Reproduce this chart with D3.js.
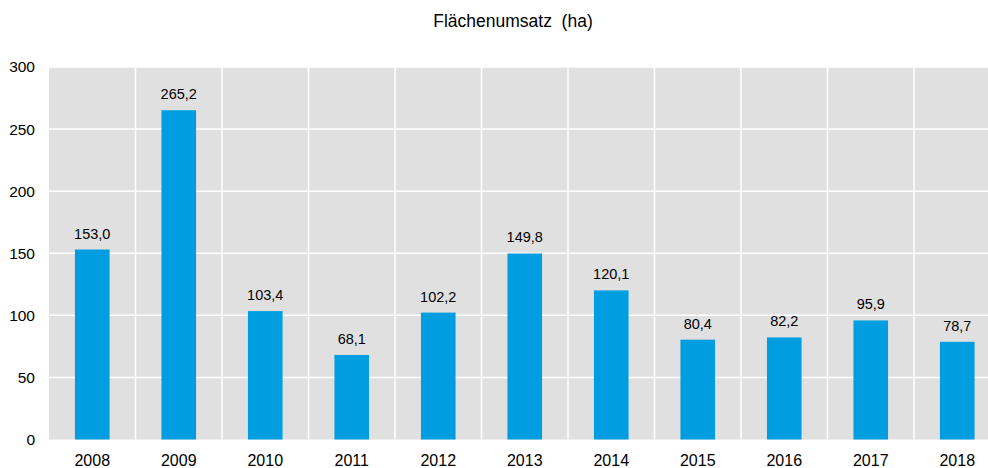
<!DOCTYPE html>
<html>
<head>
<meta charset="utf-8">
<script src="https://cdn.jsdelivr.net/npm/d3@7"></script>
<style>
  body { margin: 0; background: #fff; }
  svg { display: block; font-family: "Liberation Sans", Arial, sans-serif; }
</style>
</head>
<body>
<div id="chart"></div>
<script>
'use strict';

var years = ["2008", "2009", "2010", "2011", "2012", "2013", "2014", "2015", "2016", "2017", "2018"];
var values = [153.0, 265.2, 103.4, 68.1, 102.2, 149.8, 120.1, 80.4, 82.2, 95.9, 78.7];
var yTicks = [0, 50, 100, 150, 200, 250, 300];
var title = "Flächenumsatz  (ha)";

var W = 988, H = 468;
// plot runs past the right edge of the picture, as in the original
var plotLeft = 49, plotRight = 1000.5, plotTop = 67, plotBottom = 439.5;

var svg = d3.select("#chart").append("svg")
    .attr("width", W)
    .attr("height", H);

var x = d3.scaleBand()
    .domain(years)
    .range([plotLeft, plotRight])
    .paddingInner(0.6)
    .paddingOuter(0.3);

var y = d3.scaleLinear()
    .domain([0, 300])
    .range([plotBottom, plotTop]);

var step = x.step();

// background
svg.append("rect")
    .attr("x", plotLeft)
    .attr("y", plotTop)
    .attr("width", plotRight - plotLeft)
    .attr("height", plotBottom - plotTop)
    .attr("fill", "#e0e0e0");

// horizontal grid
svg.append("g")
    .selectAll("line")
    .data(yTicks.filter(function(d) { return d > 0; }))
    .join("line")
    .attr("x1", plotLeft)
    .attr("x2", plotRight)
    .attr("y1", function(d) { return y(d); })
    .attr("y2", function(d) { return y(d); })
    .attr("stroke", "#fff")
    .attr("stroke-width", 1.5);

// vertical grid between categories
svg.append("g")
    .selectAll("line")
    .data(years.slice(1))
    .join("line")
    .attr("x1", function(d) { return x(d) - step * 0.3; })
    .attr("x2", function(d) { return x(d) - step * 0.3; })
    .attr("y1", plotTop)
    .attr("y2", plotBottom)
    .attr("stroke", "#fff")
    .attr("stroke-width", 1.5);

// bars
svg.append("g")
    .selectAll("rect")
    .data(values)
    .join("rect")
    .attr("x", function(d, i) { return x(years[i]); })
    .attr("y", function(d) { return y(d); })
    .attr("width", x.bandwidth())
    .attr("height", function(d) { return y(0) - y(d); })
    .attr("fill", "#009ee0");

// value labels
var fmt = function(v) { return d3.format(".1f")(v).replace(".", ","); };
svg.append("g")
    .selectAll("text")
    .data(values)
    .join("text")
    .attr("x", function(d, i) { return x(years[i]) + x.bandwidth() / 2; })
    .attr("y", function(d) { return y(d) - 11; })
    .attr("text-anchor", "middle")
    .attr("font-size", 14.5)
    .attr("fill", "#000")
    .text(fmt);

// y axis
var yAxis = svg.append("g")
    .attr("transform", "translate(" + plotLeft + ",0)")
    .call(d3.axisLeft(y).tickValues(yTicks).tickSize(0).tickPadding(14));
yAxis.select(".domain").remove();
yAxis.selectAll("text")
    .attr("font-size", 15.5)
    .attr("fill", "#000")
    .attr("font-family", "Liberation Sans, Arial, sans-serif");

// x axis
var xAxis = svg.append("g")
    .attr("transform", "translate(0," + plotBottom + ")")
    .call(d3.axisBottom(x).tickSize(0).tickPadding(15));
xAxis.select(".domain").remove();
xAxis.selectAll("text")
    .attr("font-size", 16)
    .attr("fill", "#000")
    .attr("font-family", "Liberation Sans, Arial, sans-serif");

// title
svg.append("text")
    .attr("x", 513)
    .attr("y", 27)
    .attr("text-anchor", "middle")
    .attr("font-size", 17.5)
    .attr("fill", "#000")
    .style("white-space", "pre")
    .text(title);
</script>
</body>
</html>
